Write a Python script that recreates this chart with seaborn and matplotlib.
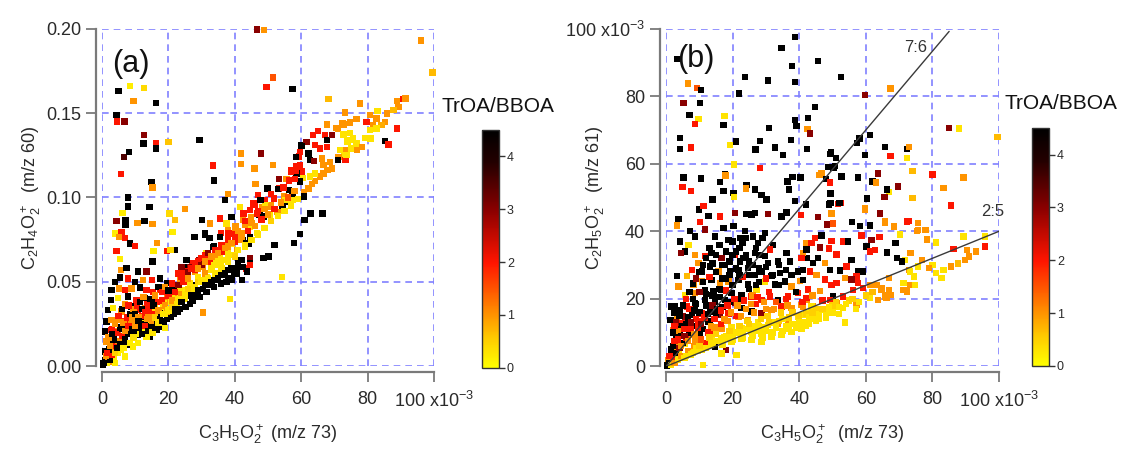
import numpy as np
import pandas as pd
import matplotlib
matplotlib.use("Agg")
import matplotlib.pyplot as plt
import seaborn as sns
from matplotlib.colors import LinearSegmentedColormap, Normalize
from matplotlib.cm import ScalarMappable

# ---------------------------------------------------------------------------
# data: (C3H5O2+ [x1e-3], signal, TrOA/BBOA)
# ---------------------------------------------------------------------------

# panel (a): C2H4O2+ (m/z 60) vs C3H5O2+ (m/z 73)
a_scatter = [
    (46.7, 0.1995, 3.0), (48.8, 0.199, 1.0), (96.0, 0.193, 1.0), (99.5, 0.174, 0.7),
    (51.6, 0.171, 1.5), (49.6, 0.1655, 2.0), (57.4, 0.1641, 4.5),
    (5.0, 0.163, 4.5), (8.4, 0.166, 0.2), (12.7, 0.165, 0.4), (9.5, 0.157, 1.0), (16.2, 0.156, 4.5),
    (4.4, 0.149, 4.5), (4.6, 0.145, 2.0), (6.8, 0.145, 3.0), (12.7, 0.137, 3.0), (12.5, 0.132, 4.5),
    (16.2, 0.132, 2.0), (16.2, 0.129, 4.5), (20.0, 0.133, 0.6), (29.4, 0.134, 4.5), (6.6, 0.124, 3.5),
    (8.1, 0.127, 4.5), (5.7, 0.114, 2.0), (14.9, 0.109, 4.5), (15.2, 0.106, 1.0),
    (7.9, 0.100, 4.5), (7.9, 0.0946, 4.5), (14.3, 0.0945, 4.5), (4.4, 0.0862, 3.0), (7.1, 0.0866, 4.5),
    (7.1, 0.0837, 4.5), (10.7, 0.085, 1.0), (12.8, 0.0862, 4.5), (15.2, 0.0843, 1.0), (6.2, 0.091, 0.2),
    (4.1, 0.0787, 0.2), (5.9, 0.0797, 2.0), (5.1, 0.0767, 1.0), (7.0, 0.076, 2.0), (8.4, 0.0728, 4.5),
    (9.9, 0.0712, 2.0), (4.4, 0.0685, 2.0), (5.4, 0.0634, 0.2), (16.5, 0.0732, 1.0), (15.5, 0.0685, 0.2),
    (19.5, 0.0685, 2.0), (22.0, 0.0689, 4.5), (20.6, 0.069, 0.4), (15.2, 0.062, 4.5), (25.0, 0.093, 1.0),
    (22.0, 0.0866, 0.7), (21.2, 0.0797, 0.2), (20.3, 0.0906, 0.4),
    (33.7, 0.110, 4.5), (33.5, 0.119, 2.0), (41.8, 0.126, 1.0), (41.8, 0.120, 1.0), (37.0, 0.0985, 4.5),
    (38.0, 0.102, 1.0), (54.2, 0.053, 0.3), (38.6, 0.040, 0.3), (30.5, 0.032, 1.0),
    (57.8, 0.073, 4.5), (52.0, 0.072, 4.5), (59.6, 0.0785, 4.5), (61.0, 0.0867, 4.5), (62.8, 0.0906, 4.5),
    (66.4, 0.0906, 4.5), (48.6, 0.064, 4.5), (50.1, 0.065, 4.5), (44.5, 0.064, 3.0), (43.4, 0.058, 2.0),
    (5.7, 0.0571, 1.0), (7.4, 0.0581, 4.5), (10.9, 0.0561, 4.5), (13.4, 0.0561, 3.0),
]

a_upper_band = [
    (68.2, 0.1582, 0.7), (77.7, 0.1557, 1.0), (88.8, 0.157, 1.0), (90.8, 0.1582, 2.0), (91.4, 0.1586, 1.0),
    (89.3, 0.1537, 1.0), (87.8, 0.1517, 0.7), (85.8, 0.1497, 1.0), (83.0, 0.1511, 0.3), (80.7, 0.1488, 1.0),
    (82.7, 0.1468, 1.0), (85.3, 0.1448, 1.0), (79.7, 0.1448, 2.0), (81.7, 0.1428, 1.0), (84.2, 0.1428, 0.8),
    (80.7, 0.1399, 0.3), (82.7, 0.1409, 0.3), (88.8, 0.1409, 2.0), (85.3, 0.1334, 4.5), (86.3, 0.1314, 2.0),
    (79.2, 0.1354, 0.3), (80.9, 0.135, 0.3), (73.2, 0.1503, 1.0), (76.7, 0.1464, 1.0), (74.7, 0.1444, 1.0),
    (72.7, 0.1432, 1.0), (67.7, 0.1432, 1.0), (71.1, 0.1405, 1.0), (72.7, 0.1374, 0.3), (74.7, 0.138, 0.3),
    (75.7, 0.135, 0.3), (73.9, 0.133, 0.3), (76.7, 0.132, 0.3), (71.7, 0.1281, 0.3), (72.9, 0.1261, 0.3),
    (71.2, 0.1241, 1.0), (73.7, 0.1281, 1.0), (75.1, 0.129, 0.3), (71.0, 0.1222, 4.5), (73.4, 0.1222, 2.0),
    (69.2, 0.1172, 1.0), (67.9, 0.1163, 1.0), (66.7, 0.1143, 1.0), (65.7, 0.1124, 1.0), (64.2, 0.1098, 1.0),
    (63.2, 0.1078, 1.0), (62.2, 0.1054, 1.0), (60.9, 0.103, 1.0), (62.7, 0.1124, 0.3), (64.2, 0.1143, 0.3),
    (60.1, 0.131, 4.5), (62.2, 0.1261, 4.5), (61.6, 0.133, 3.0), (63.6, 0.137, 2.0), (65.1, 0.1393, 2.0),
    (67.1, 0.1369, 2.0), (67.7, 0.1339, 4.5), (65.6, 0.129, 2.0), (67.7, 0.130, 2.0), (64.1, 0.131, 2.0),
    (62.7, 0.1222, 4.5), (63.9, 0.1216, 3.0), (66.2, 0.1231, 1.0), (68.7, 0.1212, 1.0), (66.7, 0.1193, 1.0),
    (59.7, 0.127, 2.0), (59.4, 0.1242, 2.0), (57.1, 0.1163, 2.0), (58.6, 0.1183, 2.0), (60.1, 0.1153, 2.0),
    (58.6, 0.1143, 4.5), (60.6, 0.1114, 0.3), (59.6, 0.1094, 4.5), (58.1, 0.1108, 2.0), (55.6, 0.1108, 1.0),
    (53.4, 0.1108, 3.0), (51.6, 0.1193, 1.0), (47.9, 0.1261, 3.0), (45.9, 0.1172, 1.0), (46.2, 0.1078, 1.0),
    (49.9, 0.1054, 4.5), (53.4, 0.1054, 2.0), (56.4, 0.1044, 4.5), (57.4, 0.1015, 1.0), (54.9, 0.1005, 1.0),
    (51.9, 0.0995, 2.0), (48.9, 0.0985, 2.0), (46.9, 0.1015, 2.0), (45.9, 0.0955, 2.0), (48.4, 0.0945, 1.0),
    (50.9, 0.0955, 1.0), (54.4, 0.0945, 4.5), (55.4, 0.0975, 4.5), (57.4, 0.0985, 0.3), (52.9, 0.0915, 1.0),
    (50.4, 0.0895, 0.3), (47.4, 0.0895, 4.5), (44.9, 0.0886, 1.0), (60.9, 0.1005, 4.5), (60.1, 0.1306, 4.5),
    (55.3, 0.0985, 0.3), (53.0, 0.105, 4.5), (57.4, 0.102, 4.5), (54.7, 0.106, 2.0), (56.3, 0.110, 2.0),
    (58.5, 0.116, 2.0), (56.9, 0.115, 2.0), (59.6, 0.119, 2.0), (58.5, 0.124, 4.5), (50.9, 0.102, 2.0),
    (49.3, 0.0956, 0.3), (50.9, 0.0946, 1.0), (47.7, 0.0985, 4.5), (45.6, 0.0965, 2.0), (44.5, 0.0926, 1.0),
    (46.7, 0.0906, 2.0), (48.8, 0.0887, 4.5), (74.0, 0.134, 0.3), (75.6, 0.134, 0.3), (73.6, 0.125, 0.3),
    (76.8, 0.128, 1.0), (78.4, 0.130, 1.0), (72.4, 0.1438, 1.0), (70.4, 0.141, 1.0), (69.3, 0.137, 3.0),
]

a_core = [
    (42.4, 0.0867, 1.0), (40.2, 0.0828, 1.0), (38.0, 0.0808, 1.0), (35.9, 0.0788, 2.0), (44.5, 0.0828, 0.3),
    (46.7, 0.0788, 0.3), (42.4, 0.0749, 4.5), (39.1, 0.0788, 2.0), (38.0, 0.0729, 0.3), (35.9, 0.069, 1.0),
    (33.7, 0.0709, 4.5), (31.5, 0.067, 0.3), (29.4, 0.063, 3.0), (27.3, 0.061, 2.0), (25.1, 0.059, 4.5),
    (33.7, 0.063, 0.3), (35.9, 0.061, 0.3), (38.0, 0.057, 4.5), (39.7, 0.055, 4.5), (39.1, 0.051, 4.5),
    (37.5, 0.050, 4.5), (35.9, 0.049, 4.5), (33.7, 0.047, 4.5), (31.5, 0.044, 4.5), (29.4, 0.041, 4.5),
    (27.3, 0.039, 4.5), (25.1, 0.035, 4.5), (22.9, 0.0325, 4.5), (20.8, 0.0296, 4.5), (18.6, 0.0256, 4.5),
    (16.5, 0.0217, 4.5), (14.3, 0.0177, 4.5), (31.5, 0.053, 0.2), (29.4, 0.051, 0.2), (27.3, 0.048, 0.2),
    (25.1, 0.045, 0.2), (22.9, 0.041, 0.2), (20.8, 0.038, 0.2), (18.6, 0.0345, 0.2), (16.5, 0.0305, 0.2),
    (14.3, 0.0266, 0.2), (12.2, 0.0227, 0.2), (10.0, 0.0187, 0.2), (7.9, 0.0138, 0.2), (5.7, 0.0099, 0.2),
    (3.6, 0.0049, 0.2), (44.5, 0.061, 4.5), (42.4, 0.059, 4.5), (41.3, 0.063, 4.5), (27.8, 0.0765, 4.5),
    (31.0, 0.078, 4.5), (32.4, 0.076, 4.5),
    (5.4, 0.0527, 4.5), (7.9, 0.0521, 2.0), (9.9, 0.0501, 4.5), (12.4, 0.0511, 1.0), (15.0, 0.0511, 2.0),
    (17.5, 0.0521, 4.5), (19.5, 0.0495, 4.5), (21.9, 0.0475, 4.5), (3.9, 0.0501, 4.5), (2.9, 0.0452, 4.5),
    (5.1, 0.0462, 1.0), (6.9, 0.0452, 2.0), (8.9, 0.0462, 1.0), (11.4, 0.0468, 4.5), (13.4, 0.0452, 2.0),
    (15.4, 0.0442, 2.0), (17.5, 0.0456, 2.0), (19.5, 0.0429, 1.0), (21.5, 0.0413, 1.0), (2.7, 0.0393, 4.5),
    (4.9, 0.0403, 0.2), (7.9, 0.0413, 4.5), (10.4, 0.0393, 2.0), (12.9, 0.0403, 4.5), (15.0, 0.0393, 4.5),
    (17.0, 0.0383, 2.0), (19.0, 0.0393, 1.0), (1.9, 0.0334, 4.5), (3.4, 0.0344, 0.2), (5.9, 0.0324, 1.0),
    (8.9, 0.0354, 4.5), (10.9, 0.0334, 2.0), (12.9, 0.0344, 1.0), (15.4, 0.0324, 2.0), (17.5, 0.0314, 4.5),
    (19.5, 0.0324, 1.0), (21.0, 0.0354, 4.5),
    (1.4, 0.0265, 4.5), (2.9, 0.0275, 1.0), (4.9, 0.0275, 1.0), (6.9, 0.0265, 2.0), (8.9, 0.0275, 1.0),
    (10.9, 0.0255, 2.0), (12.9, 0.0265, 4.5), (15.0, 0.0245, 4.5), (17.0, 0.0236, 4.5), (19.0, 0.0226, 0.2),
    (0.9, 0.0206, 4.5), (2.9, 0.0216, 2.0), (4.9, 0.0206, 1.0), (6.9, 0.0196, 4.5), (8.9, 0.0206, 2.0),
    (10.9, 0.0186, 4.5), (13.4, 0.0176, 0.2), (15.4, 0.0196, 0.2), (1.4, 0.0147, 1.0), (3.4, 0.0137, 4.5),
    (5.4, 0.0147, 2.0), (7.4, 0.0127, 4.5), (9.4, 0.0117, 0.2), (10.9, 0.0137, 0.2), (0.9, 0.0088, 4.5),
    (2.9, 0.0088, 1.0), (4.9, 0.0078, 0.2), (6.9, 0.0058, 0.2), (0.9, 0.0039, 4.5), (2.4, 0.0029, 1.0),
    (3.9, 0.0019, 0.2), (0.4, 0.0010, 4.5),
    (28.0, 0.0767, 4.5), (31.0, 0.0787, 4.5), (30.2, 0.0866, 4.5), (32.5, 0.0847, 1.0), (35.5, 0.0876, 2.0),
    (39.0, 0.0886, 4.5), (37.5, 0.0847, 0.3), (41.6, 0.0945, 0.3), (42.6, 0.0906, 2.0), (44.6, 0.0925, 2.0),
    (35.6, 0.0767, 4.5), (38.1, 0.0787, 2.0), (40.1, 0.0817, 1.0), (43.1, 0.0837, 1.0), (42.1, 0.0787, 1.0),
    (44.6, 0.0767, 4.5), (44.1, 0.0728, 4.5), (33.5, 0.0708, 4.5), (36.1, 0.0718, 1.0), (39.1, 0.0728, 0.3),
    (41.6, 0.0748, 1.0), (31.0, 0.0659, 2.0), (32.5, 0.0639, 2.0), (29.0, 0.062, 2.0), (26.5, 0.059, 3.0),
    (25.0, 0.0561, 2.0), (28.0, 0.0561, 1.0), (30.5, 0.059, 1.0), (33.0, 0.060, 0.3), (35.5, 0.0639, 0.3),
    (38.0, 0.0669, 0.3), (40.6, 0.0689, 1.0), (43.1, 0.0708, 0.3), (23.5, 0.0521, 1.0), (26.0, 0.0531, 0.3),
    (29.0, 0.0531, 0.3), (31.0, 0.0541, 0.3), (28.0, 0.0482, 4.5), (31.0, 0.0482, 4.5), (33.0, 0.0511, 4.5),
    (35.5, 0.0541, 4.5), (38.1, 0.0521, 4.5), (39.1, 0.0511, 4.5), (42.1, 0.0511, 4.5), (40.6, 0.0551, 4.5),
    (43.6, 0.0561, 4.5), (42.1, 0.063, 4.5), (44.6, 0.060, 2.0), (26.0, 0.0442, 4.5), (24.0, 0.0413, 4.5),
    (22.0, 0.0383, 4.5), (26.5, 0.0491, 0.3), (23.5, 0.0452, 0.3), (21.0, 0.0413, 0.3), (18.5, 0.0373, 0.3),
    (16.0, 0.0344, 0.3), (14.0, 0.0304, 0.3), (12.0, 0.0255, 0.3), (21.0, 0.0491, 2.0), (23.0, 0.0551, 2.0),
    (24.0, 0.059, 3.0), (25.5, 0.063, 4.5),
]

a_dense = [
    (1.0, 0.003, 4.5), (1.5, 0.002, 0.2), (2.0, 0.005, 1.0), (2.5, 0.004, 4.5), (3.0, 0.007, 2.0),
    (1.2, 0.006, 1.0), (0.5, 0.002, 4.5), (2.2, 0.010, 4.5), (3.5, 0.012, 2.0), (4.0, 0.008, 0.5),
    (4.5, 0.011, 4.5), (5.0, 0.015, 1.0), (5.5, 0.013, 4.5), (6.0, 0.018, 2.0), (6.5, 0.011, 0.2),
    (7.0, 0.016, 4.5), (7.5, 0.022, 1.0), (8.0, 0.019, 4.5), (8.5, 0.014, 0.2), (9.0, 0.024, 2.0),
    (9.5, 0.017, 0.3), (10.0, 0.021, 4.5), (10.5, 0.028, 1.0), (11.0, 0.023, 4.5), (11.5, 0.019, 0.2),
    (12.0, 0.030, 2.0), (12.5, 0.025, 4.5), (13.0, 0.021, 0.2), (13.5, 0.028, 1.0), (14.0, 0.033, 2.0),
    (14.5, 0.024, 4.5), (15.0, 0.027, 1.0), (15.5, 0.036, 4.5), (16.0, 0.029, 0.5), (16.5, 0.025, 4.5),
    (17.0, 0.033, 1.0), (17.5, 0.028, 4.5), (18.0, 0.039, 2.0), (18.5, 0.031, 0.3), (19.0, 0.036, 1.0),
    (19.5, 0.028, 4.5), (20.0, 0.042, 2.0), (20.5, 0.034, 0.3), (21.0, 0.039, 1.0), (21.5, 0.031, 4.5),
    (22.0, 0.044, 2.0), (22.5, 0.037, 0.3), (23.0, 0.048, 3.0), (23.5, 0.034, 4.5), (24.0, 0.043, 1.0),
    (24.5, 0.050, 2.0), (25.0, 0.040, 0.3), (26.0, 0.052, 1.0), (26.5, 0.037, 4.5), (27.0, 0.046, 0.3),
    (28.0, 0.057, 2.0), (28.5, 0.042, 4.5), (29.0, 0.050, 0.5), (30.0, 0.060, 3.0), (30.5, 0.046, 4.5),
    (31.0, 0.055, 1.0), (32.0, 0.062, 2.0), (32.5, 0.048, 4.5), (33.0, 0.057, 0.3), (34.0, 0.066, 1.0),
    (34.5, 0.051, 4.5), (35.0, 0.060, 0.3), (36.0, 0.068, 2.0), (36.5, 0.054, 4.5), (37.0, 0.063, 0.3),
    (38.0, 0.071, 1.0), (39.0, 0.066, 0.3), (40.0, 0.074, 2.0), (40.5, 0.058, 4.5), (41.0, 0.069, 0.3),
    (42.0, 0.077, 1.0), (43.0, 0.072, 0.3), (44.0, 0.080, 2.0), (45.0, 0.075, 0.3), (46.0, 0.083, 1.0),
    (47.0, 0.078, 0.3), (48.0, 0.087, 2.0), (49.0, 0.082, 0.3), (50.0, 0.090, 1.0), (52.0, 0.093, 2.0),
    (51.0, 0.086, 0.5), (53.0, 0.089, 0.3), (54.0, 0.097, 1.0), (55.0, 0.092, 0.3), (56.0, 0.100, 1.5),
    (57.0, 0.095, 0.3), (58.0, 0.104, 1.0), (59.0, 0.099, 0.3),
]

a_dense_extra = [
    (1.5, 0.008, 2.0), (2.5, 0.012, 1.0), (3.5, 0.016, 4.5), (4.5, 0.020, 2.0), (5.5, 0.023, 4.5),
    (6.5, 0.026, 1.0), (7.5, 0.029, 2.0), (8.5, 0.031, 4.5), (9.5, 0.034, 1.0), (10.5, 0.036, 2.0),
    (11.5, 0.038, 4.5), (12.5, 0.041, 1.0), (13.5, 0.037, 2.0), (14.5, 0.040, 4.5), (16.0, 0.042, 1.0),
    (17.0, 0.047, 4.5), (18.0, 0.044, 2.0), (19.0, 0.047, 1.0), (20.0, 0.045, 4.5), (3.0, 0.022, 2.0),
    (4.0, 0.025, 1.0), (5.0, 0.030, 2.0), (6.0, 0.034, 4.5), (7.0, 0.037, 1.0), (8.0, 0.036, 2.0),
    (9.0, 0.029, 1.0), (10.0, 0.031, 4.5), (11.0, 0.029, 1.0), (12.0, 0.034, 4.5), (13.0, 0.032, 2.0),
    (14.0, 0.029, 1.0), (2.0, 0.017, 1.0), (3.0, 0.019, 4.5), (6.0, 0.022, 4.5), (7.0, 0.021, 1.0),
    (8.0, 0.024, 2.0), (9.0, 0.022, 4.5), (10.0, 0.024, 1.0), (11.0, 0.027, 4.5), (12.0, 0.019, 4.5),
    (13.0, 0.024, 2.0), (14.0, 0.021, 4.5), (15.0, 0.020, 0.3), (16.0, 0.023, 4.5), (17.0, 0.026, 0.3),
    (18.0, 0.027, 4.5), (19.0, 0.031, 0.3), (20.0, 0.033, 0.3), (21.0, 0.035, 0.5), (22.0, 0.034, 4.5),
    (23.0, 0.040, 0.3), (24.0, 0.038, 4.5), (25.0, 0.043, 0.3), (26.0, 0.046, 0.5), (27.0, 0.042, 4.5),
    (28.0, 0.047, 0.3), (29.0, 0.045, 4.5), (30.0, 0.050, 0.3), (31.0, 0.048, 4.5), (32.0, 0.052, 0.3),
    (33.0, 0.050, 4.5), (34.0, 0.055, 0.3), (35.0, 0.052, 4.5), (36.0, 0.058, 0.3), (37.0, 0.055, 4.5),
    (38.0, 0.062, 0.3), (39.0, 0.058, 4.5), (40.0, 0.065, 0.5), (41.0, 0.061, 4.5), (24.0, 0.053, 2.0),
    (26.0, 0.056, 3.0), (27.0, 0.058, 2.0), (28.0, 0.061, 2.0), (29.0, 0.058, 1.0), (30.0, 0.064, 2.0),
    (31.0, 0.062, 1.0), (32.0, 0.067, 3.0), (33.0, 0.065, 1.0), (34.0, 0.069, 2.0), (35.0, 0.067, 1.0),
    (36.0, 0.072, 2.0), (37.0, 0.070, 1.0), (38.0, 0.075, 2.0), (39.0, 0.073, 1.0), (40.0, 0.078, 2.0),
    (41.0, 0.080, 1.0), (43.0, 0.086, 2.0), (45.0, 0.085, 1.0), (47.0, 0.092, 2.0), (49.0, 0.093, 1.0),
]

# panel (b): C2H5O2+ (m/z 61) vs C3H5O2+ (m/z 73), both x1e-3
b_upper = [
    (3.2, 91.0, 4.5), (38.7, 97.5, 4.5), (34.7, 94.3, 4.5), (45.7, 90.5, 4.5), (37.9, 89.0, 4.5),
    (23.7, 85.6, 4.5), (30.7, 84.6, 4.5), (38.7, 84.1, 4.5), (52.5, 85.6, 4.5), (6.5, 83.8, 1.0),
    (9.2, 82.4, 1.5), (10.5, 81.8, 4.5), (21.9, 80.8, 4.5), (5.2, 77.9, 3.0), (10.2, 77.9, 4.5),
    (44.7, 76.8, 4.5), (7.0, 74.5, 4.5), (9.7, 73.2, 0.3), (8.7, 71.7, 2.0), (17.5, 74.1, 0.3),
    (17.2, 71.5, 4.5), (38.7, 72.9, 4.5), (39.2, 71.2, 4.5), (42.6, 73.5, 4.5), (42.5, 70.2, 1.0),
    (43.2, 68.9, 3.0), (30.9, 70.5, 4.5), (4.2, 67.7, 4.5), (4.2, 64.3, 4.5), (7.5, 64.8, 2.0),
    (21.0, 66.6, 4.5), (19.2, 65.6, 0.3), (28.2, 66.7, 4.5), (26.9, 64.2, 4.5), (32.7, 64.8, 4.5),
    (37.5, 67.0, 4.5), (35.2, 62.5, 4.5), (42.3, 64.3, 4.5), (49.5, 63.3, 4.5), (20.4, 59.8, 0.3),
    (28.2, 58.8, 2.0), (48.6, 59.0, 4.5), (50.8, 59.3, 4.5), (5.2, 55.9, 4.5), (10.5, 55.6, 4.5),
    (17.7, 56.9, 4.5), (17.9, 56.5, 1.0), (16.2, 54.6, 4.5), (4.9, 53.1, 2.0), (7.5, 51.9, 2.0),
    (17.2, 51.9, 4.5), (20.2, 51.4, 4.5), (20.4, 50.1, 0.3), (14.0, 49.4, 4.5), (24.2, 53.7, 4.5),
    (24.1, 52.7, 1.0), (26.7, 52.4, 4.5), (28.7, 50.7, 4.5), (30.2, 49.4, 4.5), (36.5, 54.7, 4.5),
    (36.9, 52.4, 4.5), (38.0, 56.0, 4.5), (40.4, 55.9, 4.5), (46.7, 57.1, 1.0), (48.0, 55.4, 4.5),
    (49.2, 54.4, 2.0), (38.7, 48.9, 4.5), (51.7, 48.1, 2.0),
    (99.5, 68.0, 0.7), (84.9, 70.6, 3.0), (88.0, 70.4, 0.3), (72.4, 64.3, 4.5), (72.9, 65.0, 1.0),
    (72.4, 61.6, 0.3), (74.0, 57.9, 0.7), (80.0, 56.8, 2.0), (89.3, 55.9, 1.0), (83.3, 52.9, 1.0),
    (85.5, 47.6, 2.0), (74.0, 49.8, 0.7), (66.9, 51.7, 0.3), (66.3, 52.4, 4.5), (65.6, 50.2, 3.0),
    (69.6, 53.2, 3.0), (67.4, 62.3, 2.0), (65.8, 65.0, 4.5), (61.2, 68.5, 4.5), (58.1, 67.5, 4.5),
    (57.4, 66.2, 4.5), (59.8, 62.6, 4.5), (59.8, 80.3, 3.0), (67.4, 82.3, 1.0), (62.0, 54.7, 4.5),
    (63.6, 57.1, 3.0), (63.0, 54.4, 1.0), (59.8, 46.3, 1.0), (60.4, 49.7, 4.5), (57.6, 55.9, 4.5),
    (52.7, 56.2, 4.5), (52.5, 48.3, 2.0), (49.4, 51.2, 4.5), (49.4, 48.3, 4.5), (51.0, 61.6, 4.5),
    (49.4, 62.9, 4.5), (50.3, 58.9, 4.5), (46.1, 56.7, 1.0), (64.2, 45.3, 3.0),
]

b_right = [
    (65.8, 42.4, 1.0), (68.5, 41.4, 1.0), (72.4, 42.9, 2.0), (75.6, 42.4, 1.0), (75.6, 40.4, 1.0),
    (77.8, 40.4, 0.3), (78.4, 37.4, 1.0), (81.1, 36.9, 0.3), (89.3, 38.4, 0.3), (95.8, 35.5, 2.0),
    (93.0, 34.0, 1.0), (90.4, 34.5, 1.0), (90.9, 32.5, 1.0), (89.8, 31.5, 1.0), (87.6, 30.5, 0.7),
    (85.5, 29.6, 1.0), (83.3, 28.6, 0.3), (81.1, 27.6, 0.3), (82.7, 26.1, 0.3), (80.0, 30.0, 0.3),
    (78.9, 29.1, 1.0), (76.8, 31.5, 1.0), (75.6, 29.6, 0.3), (74.5, 26.6, 0.3), (72.9, 28.6, 1.0),
    (71.7, 31.5, 0.3), (71.3, 24.6, 0.3), (73.4, 24.1, 1.0), (66.9, 26.1, 1.0), (66.9, 22.7, 1.0),
    (65.8, 20.7, 1.0), (67.4, 21.2, 1.0), (64.7, 23.2, 1.0), (73.4, 33.5, 1.0), (95.8, 38.4, 0.3),
    (49.0, 47.9, 4.5), (52.1, 48.4, 4.5), (42.0, 47.9, 4.5), (49.7, 45.3, 1.0), (59.7, 46.7, 1.0),
    (45.7, 44.3, 3.0), (48.3, 42.0, 3.0), (50.2, 42.3, 1.5), (55.9, 42.7, 4.5), (58.2, 41.5, 4.5),
    (61.2, 41.7, 4.5), (65.8, 43.0, 1.0), (72.8, 43.0, 2.0), (70.3, 39.0, 0.3), (64.1, 38.3, 2.0),
    (75.3, 40.0, 1.0), (77.9, 40.3, 1.0), (81.1, 36.7, 0.3), (78.3, 37.7, 1.0), (86.3, 34.8, 2.0),
    (46.7, 38.8, 4.5), (44.7, 38.1, 2.0), (42.2, 36.6, 1.0), (53.2, 37.0, 2.0), (54.7, 37.0, 4.5),
    (58.7, 38.7, 2.0), (61.7, 37.5, 3.0), (68.9, 36.5, 4.5), (62.7, 34.5, 2.0), (66.3, 33.7, 4.5),
    (69.3, 32.1, 4.5), (70.8, 31.1, 4.5), (60.2, 35.5, 4.5), (61.2, 34.0, 2.0), (49.7, 37.2, 2.0),
    (49.0, 34.9, 2.0), (51.2, 33.1, 2.0), (46.2, 35.2, 3.0), (45.7, 32.1, 4.5), (44.2, 30.6, 4.5),
    (42.2, 32.1, 4.5), (41.2, 33.5, 1.0), (47.7, 30.6, 1.0), (49.2, 28.6, 4.5), (52.2, 28.4, 4.5),
    (55.7, 31.5, 4.5), (54.2, 29.6, 2.0), (57.7, 28.1, 4.5), (59.2, 28.1, 4.5), (57.2, 26.6, 2.0),
    (55.7, 25.7, 3.0), (53.7, 26.1, 1.0), (51.2, 24.7, 2.0), (47.7, 25.7, 2.0), (45.2, 27.1, 1.0),
    (43.2, 28.1, 2.0), (41.2, 28.6, 4.5), (40.2, 25.2, 1.0), (42.7, 22.8, 2.0), (46.2, 22.3, 1.0),
    (49.7, 24.1, 2.0), (50.2, 20.7, 4.5), (49.2, 19.7, 2.0), (53.2, 20.7, 2.0), (56.2, 22.7, 2.0),
    (59.2, 23.2, 2.0), (57.7, 24.7, 2.0), (61.2, 24.1, 1.0), (63.2, 24.1, 1.0), (64.7, 22.7, 1.0),
    (66.7, 21.2, 1.0), (66.2, 20.2, 1.0), (63.7, 19.7, 1.0), (61.2, 20.2, 0.3), (57.2, 18.2, 1.0),
    (53.2, 17.2, 0.3), (51.2, 18.7, 1.0), (46.2, 16.7, 0.3), (44.2, 17.7, 1.0), (42.2, 19.7, 1.0),
    (40.7, 18.2, 1.0), (41.2, 15.2, 0.3), (44.7, 14.2, 0.3), (49.2, 16.2, 0.3), (53.7, 13.0, 0.3),
    (71.3, 22.7, 1.0), (72.3, 22.2, 1.0), (74.8, 24.1, 0.3), (73.3, 28.1, 0.3),
]

b_left = [
    (9.9, 46.4, 4.5), (11.2, 47.4, 2.0), (3.7, 43.7, 4.5), (3.2, 41.7, 1.0), (7.2, 40.0, 4.5),
    (10.2, 42.7, 2.0), (12.7, 44.6, 4.5), (16.2, 44.4, 2.0), (20.7, 45.4, 3.0), (24.2, 45.2, 4.5),
    (25.7, 45.0, 4.5), (26.7, 45.4, 4.5), (30.7, 45.2, 3.0), (34.7, 44.4, 4.5), (36.2, 45.6, 4.5),
    (40.5, 44.9, 2.0), (17.2, 41.0, 4.5), (20.2, 41.5, 4.5), (23.7, 40.0, 4.5), (26.2, 38.5, 4.5),
    (29.7, 39.5, 4.5), (32.2, 36.0, 4.5), (27.7, 36.6, 4.5), (22.2, 38.0, 4.5), (18.7, 37.5, 4.5),
    (14.7, 38.5, 4.5), (11.7, 40.5, 3.0), (8.7, 38.5, 4.5), (4.2, 37.0, 4.5), (6.7, 36.0, 0.3),
    (5.7, 34.0, 4.5), (4.5, 33.6, 3.0), (8.7, 33.0, 1.0), (11.7, 32.6, 2.0), (13.7, 33.6, 4.5),
    (16.7, 32.1, 3.0), (20.7, 33.0, 2.0), (22.2, 31.1, 4.5), (23.2, 32.1, 4.5), (26.7, 33.6, 4.5),
    (29.7, 32.6, 4.5), (31.2, 34.6, 2.0), (36.2, 33.6, 4.5), (37.2, 31.1, 4.5), (33.7, 31.1, 4.5),
    (30.7, 30.6, 4.5), (40.7, 32.1, 2.0), (42.2, 34.6, 4.5), (43.7, 36.6, 2.0), (9.7, 30.6, 1.0),
    (7.7, 28.6, 2.0), (6.2, 26.7, 0.7), (3.7, 23.7, 1.0), (3.2, 26.7, 4.5), (10.7, 28.1, 4.5),
    (13.2, 29.6, 4.5), (15.7, 28.1, 1.0), (17.7, 30.1, 4.5), (19.2, 28.1, 4.5), (21.7, 28.6, 4.5),
    (24.7, 29.1, 4.5), (26.7, 27.1, 4.5), (28.7, 28.1, 4.5), (31.7, 26.7, 4.5), (34.2, 27.6, 4.5),
    (37.7, 27.1, 4.5), (39.7, 28.1, 4.5), (41.2, 25.6, 4.5), (37.7, 23.7, 1.0), (35.7, 25.1, 4.5),
    (32.7, 24.2, 4.5), (29.7, 25.1, 0.3), (27.2, 22.7, 0.3), (24.7, 24.2, 4.5), (21.7, 25.6, 4.5),
    (18.7, 25.1, 1.0), (16.2, 24.7, 1.0), (13.7, 25.6, 4.5), (10.7, 25.1, 1.0), (8.2, 24.2, 1.0),
    (5.7, 21.2, 0.3), (8.7, 21.7, 1.0), (11.7, 22.7, 4.5), (14.2, 22.2, 4.5), (16.7, 22.7, 4.5),
    (19.7, 21.7, 4.5), (22.7, 21.2, 4.5), (25.7, 20.7, 2.0), (28.7, 19.7, 2.0), (31.2, 20.7, 2.0),
    (33.7, 19.7, 4.5), (36.7, 20.7, 2.0), (39.7, 21.7, 2.0), (42.2, 20.2, 2.0), (41.2, 17.7, 1.0),
    (37.7, 17.2, 1.0), (34.7, 17.7, 2.0), (31.7, 16.7, 1.0), (28.7, 15.7, 3.0), (25.7, 16.2, 4.5),
    (22.7, 17.2, 4.5), (20.7, 18.7, 3.0), (17.7, 19.7, 4.5), (14.7, 19.2, 4.5), (11.7, 19.7, 4.5),
    (8.7, 18.7, 4.5), (6.2, 17.7, 2.0), (4.2, 16.7, 4.5), (2.7, 17.7, 4.5), (3.2, 14.7, 1.0),
    (5.7, 14.2, 3.0), (7.7, 15.2, 4.5), (10.7, 15.7, 2.0), (13.2, 16.2, 4.5), (16.2, 15.2, 3.0),
    (18.7, 15.7, 2.0), (21.7, 14.7, 1.0), (24.7, 13.7, 1.0), (27.7, 13.2, 0.3), (30.7, 12.2, 0.3),
    (33.7, 12.7, 1.0), (36.7, 13.7, 1.0), (39.7, 14.7, 0.3), (42.7, 15.7, 0.3), (43.7, 17.7, 0.3),
    (12.7, 13.2, 4.5), (9.7, 12.2, 3.0), (6.7, 11.7, 4.5), (4.7, 12.7, 2.0), (2.2, 10.7, 1.0),
    (4.2, 9.7, 4.5), (7.2, 9.3, 1.0), (10.2, 9.7, 4.5), (13.7, 10.2, 2.0), (16.7, 11.2, 1.0),
    (19.7, 11.7, 0.3), (22.7, 11.2, 0.3), (25.7, 10.2, 0.3), (28.7, 9.7, 0.3), (31.7, 8.7, 0.3),
    (34.7, 9.2, 0.3), (37.7, 10.2, 0.3), (40.7, 11.2, 0.3), (14.7, 5.8, 4.5), (18.0, 4.8, 3.0),
    (11.7, 6.8, 2.0), (8.7, 7.8, 1.0), (5.7, 6.8, 0.3), (2.7, 5.8, 1.0), (1.7, 3.3, 0.3),
    (0.7, 1.8, 1.0), (0.2, 0.3, 4.5), (3.7, 3.8, 0.3), (7.7, 4.3, 0.3), (10.7, 4.8, 0.3),
    (13.7, 7.8, 0.3), (16.7, 8.3, 0.3), (19.7, 7.3, 0.3), (22.7, 8.3, 0.3), (25.7, 7.8, 0.3),
    (28.7, 7.3, 0.3), (11.0, 0.4, 0.3), (21.2, 3.3, 0.3), (16.7, 3.8, 0.3),
    (1.6, 17.7, 4.5), (2.4, 15.8, 4.5), (1.3, 13.8, 4.5), (3.5, 11.3, 4.5),
]

b_dense = [
    (1.0, 1.0, 4.5), (1.5, 0.5, 0.3), (2.0, 2.5, 2.0), (2.5, 1.0, 1.0), (3.0, 4.0, 4.5), (3.5, 2.0, 0.3),
    (4.0, 5.5, 3.0), (4.5, 3.0, 1.0), (5.0, 7.0, 4.5), (5.5, 2.5, 0.3), (6.0, 8.5, 2.0), (6.5, 4.5, 1.0),
    (7.0, 10.0, 4.5), (7.5, 3.5, 0.3), (8.0, 12.0, 4.5), (8.5, 6.0, 1.0), (9.0, 14.0, 2.0), (9.5, 4.5, 0.3),
    (10.0, 16.0, 4.5), (10.5, 8.0, 1.5), (11.0, 11.0, 4.5), (11.5, 5.5, 0.3), (12.0, 18.0, 4.5),
    (12.5, 10.0, 2.0), (13.0, 13.5, 4.5), (13.5, 6.5, 0.3), (14.0, 21.0, 4.5), (14.5, 11.5, 1.0),
    (15.0, 15.5, 4.5), (15.5, 7.5, 0.3), (16.0, 23.0, 4.5), (16.5, 12.5, 2.0), (17.0, 17.5, 4.5),
    (17.5, 8.5, 0.3), (18.0, 26.0, 4.5), (18.5, 13.5, 1.0), (19.0, 19.0, 4.5), (19.5, 9.5, 0.3),
    (20.0, 24.0, 4.5), (21.0, 15.0, 2.0), (22.0, 20.0, 4.5), (23.0, 10.5, 0.3), (24.0, 17.0, 1.0),
    (25.0, 23.0, 4.5), (26.0, 12.0, 0.3), (27.0, 18.5, 2.0), (28.0, 25.0, 4.5), (29.0, 11.5, 0.3),
    (30.0, 17.0, 1.0), (31.0, 22.0, 2.0), (32.0, 13.0, 0.3), (33.0, 19.0, 1.5), (34.0, 24.0, 4.5),
    (35.0, 14.0, 0.3), (36.0, 20.0, 2.0), (37.0, 11.0, 0.3), (38.0, 16.0, 0.5), (39.0, 22.0, 4.5),
    (40.0, 13.0, 0.3), (41.0, 19.0, 2.0), (42.0, 15.5, 0.5), (43.0, 12.5, 0.3), (44.0, 21.0, 1.0),
    (45.0, 17.0, 0.5), (46.0, 14.0, 0.3), (47.0, 19.5, 2.0), (48.0, 16.5, 0.3), (50.0, 18.0, 0.5),
    (52.0, 15.5, 0.3), (55.0, 19.5, 0.5), (57.0, 17.0, 0.3), (2.0, 6.0, 4.5), (3.0, 9.0, 4.5),
    (4.0, 12.0, 4.5), (5.0, 15.0, 3.0), (6.0, 12.5, 4.5), (7.0, 17.0, 2.0), (8.0, 20.0, 4.5),
    (9.0, 18.5, 4.5), (10.0, 22.0, 3.0), (11.0, 25.0, 4.5), (12.0, 21.5, 4.5), (13.0, 26.5, 2.0),
    (14.0, 18.0, 3.0), (15.0, 28.0, 4.5), (16.0, 20.5, 4.5), (17.0, 30.0, 4.5), (18.0, 22.5, 2.0),
    (19.0, 27.0, 4.5), (20.0, 33.0, 4.5), (21.0, 29.0, 4.5), (22.0, 35.0, 4.5), (23.0, 26.5, 2.0),
    (24.0, 38.0, 4.5), (25.0, 31.0, 4.5), (26.0, 21.0, 1.0), (27.0, 35.0, 4.5), (28.0, 29.0, 4.5),
    (29.0, 38.0, 4.5), (30.0, 26.0, 2.0), (1.0, 3.0, 2.0), (1.5, 5.0, 4.5), (2.5, 7.5, 2.0),
    (3.5, 10.5, 1.0), (4.5, 9.0, 4.5), (5.5, 11.0, 2.0), (6.5, 14.5, 4.5), (7.5, 13.0, 3.0),
    (8.5, 16.5, 4.5), (9.5, 11.5, 2.0),
]

b_dense_extra = [
    (2.0, 10.0, 4.5), (3.0, 13.0, 3.0), (4.0, 15.0, 4.5), (5.0, 18.0, 4.5), (6.0, 20.0, 2.0),
    (7.0, 22.0, 4.5), (8.0, 24.5, 4.5), (9.0, 26.0, 3.0), (10.0, 28.0, 4.5), (11.0, 30.0, 4.5),
    (12.0, 32.0, 4.5), (13.0, 35.0, 4.5), (14.0, 30.5, 4.5), (15.0, 33.0, 4.5), (16.0, 36.0, 4.5),
    (17.0, 26.0, 4.5), (18.0, 34.0, 4.5), (19.0, 31.0, 4.5), (20.0, 37.0, 4.5), (21.0, 34.0, 4.5),
    (22.0, 27.0, 4.5), (23.0, 36.5, 4.5), (24.0, 33.0, 4.5), (25.0, 27.0, 4.5), (26.0, 30.0, 4.5),
    (27.0, 24.0, 4.5), (28.0, 33.0, 4.5), (30.0, 29.5, 4.5), (32.0, 27.0, 4.5), (34.0, 30.0, 4.5),
    (36.0, 28.5, 4.5), (2.5, 12.0, 2.0), (3.5, 8.0, 2.0), (4.5, 6.0, 1.0), (5.5, 9.0, 3.0),
    (6.5, 7.5, 1.0), (7.5, 11.0, 2.0), (8.5, 9.5, 1.0), (9.5, 13.5, 2.0), (10.5, 12.5, 3.0),
    (11.5, 14.5, 2.0), (12.5, 15.5, 4.5), (13.5, 12.0, 1.0), (14.5, 14.0, 2.0), (15.5, 17.0, 4.5),
    (16.5, 16.5, 2.0), (17.5, 14.0, 1.0), (18.5, 18.0, 2.0), (19.5, 16.0, 1.0), (20.5, 20.0, 2.0),
    (21.5, 18.0, 1.0), (22.5, 15.0, 1.0), (23.5, 19.5, 2.0), (24.5, 13.5, 0.5), (25.5, 18.5, 1.0),
    (26.5, 16.0, 1.0), (27.5, 20.5, 2.0), (28.5, 14.0, 0.5), (29.5, 19.0, 1.0), (30.5, 15.0, 0.5),
    (32.5, 17.0, 1.0), (34.5, 16.0, 0.5), (36.5, 18.0, 1.0),
    (6.0, 3.0, 0.3), (8.0, 4.0, 0.3), (9.0, 5.5, 0.3), (10.0, 6.0, 0.5), (12.0, 5.5, 0.3),
    (13.0, 8.5, 0.5), (14.0, 7.0, 0.3), (15.0, 9.5, 0.5), (17.0, 6.5, 0.3), (18.0, 9.0, 0.3),
    (19.0, 10.5, 0.5), (20.0, 8.0, 0.3), (21.0, 10.0, 0.3), (22.0, 12.0, 0.5), (23.0, 8.5, 0.3),
    (24.0, 11.0, 0.3), (25.0, 12.5, 0.5), (26.0, 9.0, 0.3), (27.0, 10.5, 0.3), (28.0, 12.0, 0.3),
    (29.0, 8.5, 0.3), (30.0, 10.5, 0.3), (31.0, 13.0, 0.5), (32.0, 10.0, 0.3), (33.0, 11.5, 0.3),
    (34.0, 13.5, 0.5), (35.0, 10.5, 0.3), (36.0, 12.0, 0.3), (37.0, 14.5, 0.5), (38.0, 12.5, 0.3),
    (39.0, 11.5, 0.3), (40.0, 15.0, 0.5), (41.0, 13.0, 0.3), (42.0, 12.0, 0.3), (43.0, 14.5, 0.3),
    (44.0, 16.0, 0.5), (45.0, 13.5, 0.3), (46.0, 15.5, 0.3), (47.0, 17.0, 0.5), (48.0, 14.5, 0.3),
    (49.0, 17.5, 0.3), (50.0, 16.0, 0.3), (51.0, 19.0, 0.5), (52.0, 17.5, 0.3), (54.0, 18.5, 0.3),
    (56.0, 20.0, 0.5), (58.0, 19.0, 0.3), (60.0, 21.0, 0.5), (62.0, 22.0, 0.7),
]

# reference ratio lines in panel (b): label, slope, x end
ratio_lines = [("7:6", 7 / 6, 85.0), ("2:5", 2 / 5, 100.0)]

cbar_ticks = [0, 1, 2, 3, 4]
x_ticks = [0, 20, 40, 60, 80, 100]
x_labels = ["0", "20", "40", "60", "80", "100 x10$^{-3}$"]
a_yticks = [0.0, 0.05, 0.10, 0.15, 0.20]
a_ylabels = ["0.00", "0.05", "0.10", "0.15", "0.20"]
b_yticks = [0, 20, 40, 60, 80, 100]
b_ylabels = ["0", "20", "40", "60", "80", "100 x10$^{-3}$"]

# ---------------------------------------------------------------------------
sns.set_theme(style="white")
plt.rcParams["font.family"] = ["Liberation Sans", "DejaVu Sans"]
plt.rcParams["mathtext.fontset"] = "custom"
plt.rcParams["mathtext.rm"] = "Liberation Sans"
plt.rcParams["mathtext.it"] = "Liberation Sans:italic"
plt.rcParams["mathtext.bf"] = "Liberation Sans:bold"
plt.rcParams["mathtext.default"] = "regular"
plt.rcParams["axes.unicode_minus"] = False

TXT = "#2a2a2a"
AX_GRAY = "#7a7a7a"
GRID = "#8080ff"

cmap = LinearSegmentedColormap.from_list(
    "troa",
    [(0.0, "#ffff00"), (0.12, "#ffcc00"), (0.22, "#ff9400"), (0.44, "#ff1500"),
     (0.66, "#8c0000"), (0.86, "#250000"), (1.0, "#000000")],
)
norm = Normalize(vmin=0, vmax=4.5)

df_a = pd.DataFrame(a_scatter + a_upper_band + a_core + a_dense + a_dense_extra,
                    columns=["x", "y", "r"])
df_b = pd.DataFrame(b_upper + b_right + b_left + b_dense + b_dense_extra,
                    columns=["x", "y", "r"])

fig = plt.figure(figsize=(11.37, 4.54), dpi=100)
ax_a = fig.add_axes([0.0897, 0.193, 0.292, 0.744])
ax_b = fig.add_axes([0.5858, 0.193, 0.2929, 0.744])
cax_a = fig.add_axes([0.4239, 0.190, 0.0146, 0.5236])
cax_b = fig.add_axes([0.9077, 0.194, 0.0146, 0.5236])


def style_axis(ax, yticks, ylabels, ylim):
    ax.set_xlim(0, 100)
    ax.set_ylim(*ylim)
    ax.set_xticks(x_ticks)
    ax.set_xticklabels(x_labels)
    ax.set_yticks(yticks)
    ax.set_yticklabels(ylabels)
    ax.set_axisbelow(True)
    ax.grid(True, color=GRID, linestyle=(0, (4, 3)), linewidth=1.2)
    for side in ["top", "right"]:
        ax.spines[side].set_visible(False)
    for side in ["left", "bottom"]:
        ax.spines[side].set_color(AX_GRAY)
        ax.spines[side].set_linewidth(1.6)
        ax.spines[side].set_position(("outward", 4))
    ax.tick_params(axis="both", direction="out", length=7, width=1.3, color=AX_GRAY,
                   labelsize=13, labelcolor=TXT, bottom=True, left=True)
    ax.tick_params(axis="x", pad=7)
    ax.tick_params(axis="y", pad=4)


for ax, df in [(ax_a, df_a), (ax_b, df_b)]:
    sns.scatterplot(data=df, x="x", y="y", hue="r", palette=cmap, hue_norm=norm,
                    marker="s", s=21, linewidth=0, legend=False, ax=ax, clip_on=False, zorder=3)

style_axis(ax_a, a_yticks, a_ylabels, (0, 0.20))
style_axis(ax_b, b_yticks, b_ylabels, (0, 100))

ax_a.set_xlabel(r"C$_3$H$_5$O$_2^+$ (m/z 73)", fontsize=13, color=TXT)
ax_a.set_ylabel(r"C$_2$H$_4$O$_2^+$  (m/z 60)", fontsize=13, color=TXT)
ax_b.set_xlabel(r"C$_3$H$_5$O$_2^+$  (m/z 73)", fontsize=13, color=TXT)
ax_b.set_ylabel(r"C$_2$H$_5$O$_2^+$  (m/z 61)", fontsize=13, color=TXT)
for ax in [ax_a, ax_b]:
    ax.xaxis.set_label_coords(0.5, -0.165)
    ax.yaxis.set_label_coords(-0.178, 0.5)

ax_a.text(0.087, 0.895, "(a)", transform=ax_a.transAxes, fontsize=22, color="#111111",
          ha="center", va="center")
ax_b.text(0.09, 0.91, "(b)", transform=ax_b.transAxes, fontsize=22, color="#111111",
          ha="center", va="center")

# ratio lines
for label, slope, xend in ratio_lines:
    xs = np.array([0.0, xend])
    ax_b.plot(xs, slope * xs, color="#3a3a3a", linewidth=1.0, zorder=4)
ax_b.text(75, 94.5, ratio_lines[0][0], fontsize=12, color="#333333", ha="center", va="center")
ax_b.text(98, 46, ratio_lines[1][0], fontsize=12, color="#333333", ha="center", va="center")

# colour bars
for cax, tx, ty in [(cax_a, 0.438, 0.766), (cax_b, 0.933, 0.773)]:
    sm = ScalarMappable(norm=norm, cmap=cmap)
    cb = fig.colorbar(sm, cax=cax, ticks=cbar_ticks)
    cb.outline.set_edgecolor("#333333")
    cb.outline.set_linewidth(1.0)
    cax.tick_params(length=4, width=1.0, color="#333333", labelsize=9, labelcolor=TXT, pad=2)
    fig.text(tx, ty, "TrOA/BBOA", fontsize=15, color="#111111", ha="center", va="center")

plt.savefig("out.png", dpi=100)
